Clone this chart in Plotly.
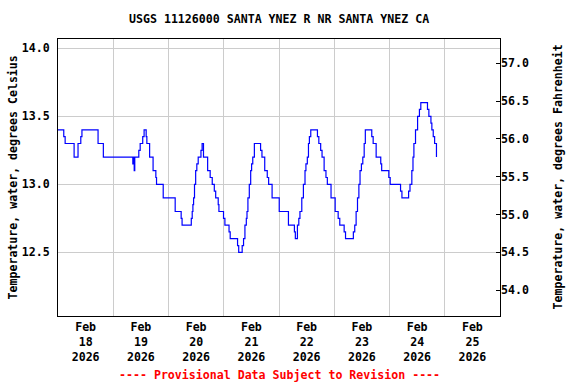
import plotly.graph_objects as go
import pandas as pd

# Change points: hours since 2026-02-18 00:00 and water temperature (deg C)
hours = [0, 2.5, 3.1, 7.0, 8.7, 9.9, 10.4, 17.4, 19.7, 32.5, 32.75, 33.1, 33.35,
         35.1, 35.7, 36.8, 37.4, 38.3, 38.6, 39.8, 41.3, 42.5, 42.8, 45.7, 50.9,
         53.5, 53.9, 57.9, 58.3, 58.6, 58.9, 59.3, 59.8, 60.3, 60.9, 62.1, 62.6,
         63.2, 65.0, 66.1, 67.0, 67.9, 68.5, 69.6, 69.9, 71.9, 72.5, 74.3, 74.8,
         78.0, 78.5, 80.0, 80.6, 81.2, 81.8, 82.1, 82.5, 83.1, 83.7, 84.1, 84.6,
         85.3, 88.0, 88.6, 89.8, 90.9, 91.5, 93.0, 96.1, 100.1, 102.7, 103.1,
         104.0, 104.6, 105.1, 105.9, 106.6, 107.3, 107.7, 108.3, 108.8, 109.2,
         109.8, 112.7, 113.3, 114.1, 114.7, 115.6, 116.4, 117.0, 118.6, 120.4,
         121.7, 122.4, 124.3, 124.9, 128.3, 128.9, 129.5, 130.1, 130.7, 131.2,
         131.8, 132.4, 133.0, 133.5, 136.3, 136.9, 138.2, 140.2, 140.6, 143.7,
         144.3, 148.8, 149.4, 152.3, 152.9, 153.7, 154.2, 154.6, 155.3, 156.2,
         157.0, 157.6, 160.5, 161.1, 162.0, 162.4, 163.0, 163.6, 164.4]
temp_c = [13.4, 13.35, 13.3, 13.2, 13.3, 13.35, 13.4, 13.3, 13.2, 13.15, 13.2, 13.1, 13.2,
          13.25, 13.3, 13.35, 13.4, 13.35, 13.3, 13.2, 13.1, 13.05, 13.0, 12.9, 12.8,
          12.75, 12.7, 12.75, 12.8, 12.85, 12.9, 13.0, 13.1, 13.15, 13.2, 13.25, 13.3,
          13.2, 13.1, 13.05, 13.0, 12.95, 12.9, 12.85, 12.8, 12.75, 12.7, 12.65, 12.6,
          12.55, 12.5, 12.55, 12.6, 12.7, 12.75, 12.8, 12.9, 13.0, 13.1, 13.15, 13.2,
          13.3, 13.25, 13.2, 13.1, 13.05, 13.0, 12.9, 12.8, 12.7, 12.65, 12.6,
          12.7, 12.75, 12.8, 12.9, 13.0, 13.1, 13.15, 13.2, 13.3, 13.35,
          13.4, 13.35, 13.3, 13.25, 13.2, 13.1, 13.05, 13.0, 12.9, 12.8,
          12.75, 12.7, 12.65, 12.6, 12.65, 12.7, 12.8, 12.9, 13.0, 13.1,
          13.15, 13.2, 13.3, 13.4, 13.35, 13.3, 13.2, 13.15, 13.1, 13.05,
          13.0, 12.95, 12.9, 12.95, 13.0, 13.1, 13.2, 13.3, 13.4, 13.5,
          13.55, 13.6, 13.55, 13.5, 13.45, 13.4, 13.35, 13.3, 13.2]

start = pd.Timestamp("2026-02-18 00:00")
times = [start + pd.Timedelta(hours=h) for h in hours]

c_ticks = [12.5, 13.0, 13.5, 14.0]
f_ticks = [54.0, 54.5, 55.0, 55.5, 56.0, 56.5, 57.0]
day_labels = ["Feb<br>18<br>2026", "Feb<br>19<br>2026", "Feb<br>20<br>2026", "Feb<br>21<br>2026",
              "Feb<br>22<br>2026", "Feb<br>23<br>2026", "Feb<br>24<br>2026", "Feb<br>25<br>2026"]
label_times = pd.date_range("2026-02-18 12:00", periods=8, freq="D")

c_range = [12.032, 14.068]
f_range = [c * 1.8 + 32 for c in c_range]

FONT = dict(family="DejaVu Sans Mono", size=11.6, color="black", weight="bold")
GRID = "#cccccc"

fig = go.Figure()
fig.add_trace(go.Scatter(x=times, y=temp_c, mode="lines", line=dict(color="#0000ff", width=1.2, shape="hv"),
                         showlegend=False, hoverinfo="skip"))
# invisible trace for the Fahrenheit axis
fig.add_trace(go.Scatter(x=[times[0]], y=[temp_c[0] * 1.8 + 32], yaxis="y2", mode="markers",
                         marker=dict(opacity=0), showlegend=False, hoverinfo="skip"))

fig.update_layout(
    width=576, height=384,
    margin=dict(l=58, r=76, t=39, b=68),
    plot_bgcolor="white", paper_bgcolor="white",
    font=FONT,
    xaxis=dict(type="date", range=["2026-02-18 00:00", "2026-02-26 00:00"],
               tickmode="array", tickvals=label_times, ticktext=day_labels,
               showgrid=False, ticks="", showline=True, mirror=True, linecolor="black", linewidth=1,
               tickfont=FONT, zeroline=False, automargin=False,
               minor=dict(tick0="2026-02-18", dtick=86400000, showgrid=True, gridcolor=GRID,
                          gridwidth=1, ticks="")),
    yaxis=dict(range=c_range, tickmode="array", tickvals=c_ticks,
               ticktext=[f"{v:.1f}" for v in c_ticks], showgrid=True, gridcolor=GRID, gridwidth=1,
               ticks="", showline=True, mirror=True, linecolor="black", linewidth=1,
               tickfont=FONT, zeroline=False, ticklabelstandoff=5, automargin=False),
    yaxis2=dict(range=f_range, overlaying="y", side="right", tickmode="array", tickvals=f_ticks,
                ticktext=[f"{v:.1f}" for v in f_ticks], showgrid=False, ticks="inside", ticklen=4,
                tickcolor="black", showline=False, tickfont=FONT, zeroline=False, automargin=False),
    annotations=[
        dict(text="USGS 11126000 SANTA YNEZ R NR SANTA YNEZ CA", xref="paper", yref="paper",
             x=0.5, y=1 + (39 - 19) / 277, xanchor="center",
             yanchor="middle", showarrow=False, font=FONT),
        dict(text="Temperature, water, degrees Celsius", xref="paper", yref="paper",
             x=(12 - 58) / 442, y=0.5, textangle=-90, xanchor="center", yanchor="middle",
             showarrow=False, font=FONT),
        dict(text="Temperature, water, degrees Fahrenheit", xref="paper", yref="paper",
             x=(557 - 58) / 442, y=0.5, textangle=-90, xanchor="center", yanchor="middle",
             showarrow=False, font=FONT),
        dict(text="---- Provisional Data Subject to Revision ----", xref="paper", yref="paper",
             x=0.5, y=-(375 - 316) / 277, xanchor="center", yanchor="middle", showarrow=False,
             font=dict(family="DejaVu Sans Mono", size=11.6, color="#ff0000", weight="bold")),
    ],
)

fig.write_html("out.html", config={"displayModeBar": False},
               post_script="document.body.style.margin='0';document.body.style.overflow='hidden';")
